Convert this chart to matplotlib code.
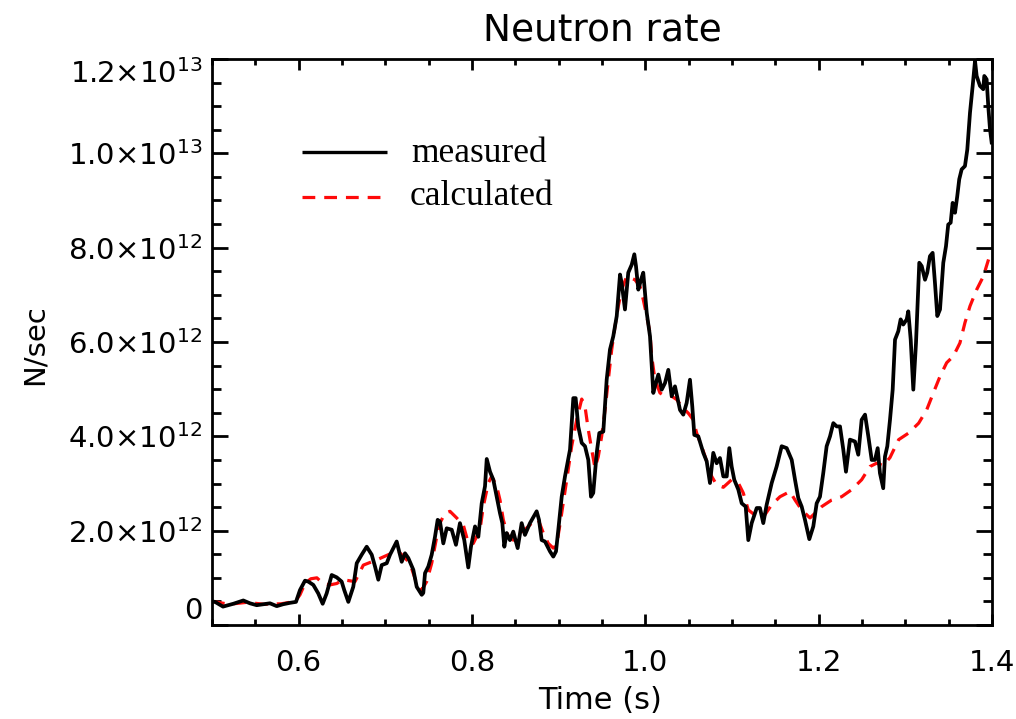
import numpy as np
import matplotlib
matplotlib.use("Agg")
import matplotlib.pyplot as plt
from matplotlib.ticker import FixedLocator, MultipleLocator, FuncFormatter

# Measured neutron rate (time in s, rate in units of 1e12 N/sec)
t_measured = [
    0.5000, 0.5035, 0.5127, 0.5246, 0.5361, 0.5438, 0.5516, 0.5590, 0.5669, 0.5747,
    0.5820, 0.5900, 0.5969, 0.6015, 0.6073, 0.6111, 0.6169, 0.6226, 0.6277, 0.6323,
    0.6381, 0.6439, 0.6496, 0.6526, 0.6573, 0.6630, 0.6670, 0.6727, 0.6785, 0.6843,
    0.6881, 0.6919, 0.6958, 0.7016, 0.7054, 0.7111, 0.7131, 0.7150, 0.7189, 0.7227,
    0.7265, 0.7323, 0.7362, 0.7420, 0.7438, 0.7458, 0.7496, 0.7535, 0.7573, 0.7604,
    0.7631, 0.7669, 0.7708, 0.7766, 0.7815, 0.7861, 0.7911, 0.7957, 0.7988, 0.8035,
    0.8073, 0.8112, 0.8150, 0.8170, 0.8208, 0.8246, 0.8285, 0.8323, 0.8350, 0.8373,
    0.8400, 0.8438, 0.8476, 0.8527, 0.8573, 0.8611, 0.8669, 0.8746, 0.8773, 0.8804,
    0.8842, 0.8900, 0.8938, 0.8969, 0.8996, 0.9035, 0.9073, 0.9131, 0.9169, 0.9196,
    0.9226, 0.9266, 0.9304, 0.9342, 0.9373, 0.9399, 0.9439, 0.9469, 0.9515, 0.9554,
    0.9592, 0.9630, 0.9670, 0.9708, 0.9727, 0.9765, 0.9803, 0.9843, 0.9873, 0.9892,
    0.9919, 0.9950, 0.9976, 1.0016, 1.0054, 1.0092, 1.0111, 1.0150, 1.0189, 1.0227,
    1.0265, 1.0304, 1.0342, 1.0400, 1.0438, 1.0477, 1.0515, 1.0542, 1.0565, 1.0611,
    1.0669, 1.0708, 1.0746, 1.0784, 1.0823, 1.0861, 1.0900, 1.0939, 1.0969, 1.0996,
    1.1026, 1.1073, 1.1112, 1.1158, 1.1188, 1.1227, 1.1285, 1.1323, 1.1361, 1.1400,
    1.1458, 1.1515, 1.1573, 1.1631, 1.1689, 1.1727, 1.1765, 1.1804, 1.1842, 1.1892,
    1.1938, 1.1977, 1.2015, 1.2053, 1.2092, 1.2131, 1.2169, 1.2208, 1.2246, 1.2284,
    1.2315, 1.2361, 1.2419, 1.2457, 1.2496, 1.2535, 1.2573, 1.2612, 1.2650, 1.2681,
    1.2707, 1.2745, 1.2765, 1.2792, 1.2823, 1.2854, 1.2881, 1.2919, 1.2946, 1.2976,
    1.3016, 1.3034, 1.3062, 1.3092, 1.3123, 1.3161, 1.3189, 1.3227, 1.3253, 1.3284,
    1.3315, 1.3342, 1.3369, 1.3400, 1.3438, 1.3469, 1.3495, 1.3523, 1.3546, 1.3573,
    1.3599, 1.3622, 1.3650, 1.3688, 1.3715, 1.3746, 1.3777, 1.3804, 1.3823, 1.3861,
    1.3899, 1.3911, 1.3938, 1.3957, 1.3977, 1.3996,
]
rate_measured = [
    0.50, 0.49, 0.39, 0.45, 0.52, 0.46, 0.42, 0.44, 0.46, 0.40,
    0.44, 0.47, 0.49, 0.74, 0.94, 0.92, 0.85, 0.67, 0.45, 0.67,
    1.06, 1.01, 0.92, 0.74, 0.49, 0.81, 1.31, 1.49, 1.66, 1.49,
    1.24, 0.96, 1.27, 1.31, 1.49, 1.70, 1.77, 1.63, 1.34, 1.52,
    1.42, 1.17, 0.81, 0.64, 0.68, 1.10, 1.24, 1.49, 1.87, 2.23,
    2.19, 1.73, 2.05, 2.02, 1.70, 2.16, 1.80, 1.22, 1.66, 2.09,
    1.87, 2.58, 2.94, 3.52, 3.25, 3.08, 2.72, 2.37, 2.16, 1.66,
    1.95, 1.80, 1.98, 1.63, 2.16, 1.91, 2.16, 2.41, 2.23, 1.80,
    1.77, 1.56, 1.45, 1.56, 2.02, 2.72, 3.15, 3.72, 4.81, 4.81,
    4.21, 3.86, 3.79, 3.50, 2.72, 2.80, 3.65, 4.07, 4.10, 5.20,
    5.84, 6.12, 6.55, 7.43, 7.25, 6.69, 7.47, 7.64, 7.86, 7.61,
    7.11, 7.32, 7.47, 6.62, 6.12, 4.92, 5.06, 5.31, 4.99, 5.13,
    5.41, 4.85, 5.06, 4.56, 4.46, 4.71, 5.20, 4.63, 4.03, 4.00,
    3.65, 3.47, 3.01, 3.65, 3.43, 3.54, 3.15, 3.15, 3.75, 3.36,
    3.08, 2.87, 2.58, 2.51, 1.80, 2.16, 2.48, 2.48, 2.16, 2.55,
    3.01, 3.36, 3.79, 3.75, 3.50, 3.08, 2.69, 2.51, 2.23, 1.82,
    2.09, 2.58, 2.72, 3.22, 3.79, 4.00, 4.28, 4.21, 4.21, 3.72,
    3.25, 3.93, 3.89, 3.61, 4.35, 4.46, 4.00, 3.50, 3.50, 3.75,
    3.22, 2.90, 3.57, 3.79, 4.35, 4.99, 6.05, 6.23, 6.48, 6.37,
    6.48, 6.65, 6.05, 4.99, 5.98, 7.68, 7.61, 7.32, 7.47, 7.82,
    7.89, 7.25, 6.55, 6.69, 7.68, 8.03, 8.49, 8.53, 8.95, 8.74,
    9.09, 9.45, 9.66, 9.73, 10.08, 10.86, 11.43, 11.96, 11.64, 11.43,
    11.36, 11.64, 11.57, 11.00, 10.51, 10.23,
]

# Calculated neutron rate (time in s, rate in units of 1e12 N/sec)
t_calculated = [
    0.5000, 0.5200, 0.5400, 0.5600, 0.5800, 0.5960, 0.6015, 0.6073, 0.6140, 0.6210,
    0.6280, 0.6360, 0.6440, 0.6510, 0.6650, 0.6746, 0.6900, 0.7070, 0.7140, 0.7227,
    0.7283, 0.7362, 0.7420, 0.7477, 0.7535, 0.7593, 0.7630, 0.7688, 0.7746, 0.7823,
    0.7900, 0.7958, 0.8015, 0.8092, 0.8130, 0.8188, 0.8227, 0.8285, 0.8323, 0.8361,
    0.8419, 0.8476, 0.8534, 0.8611, 0.8689, 0.8765, 0.8823, 0.8880, 0.8938, 0.8977,
    0.9025, 0.9093, 0.9150, 0.9208, 0.9266, 0.9304, 0.9342, 0.9381, 0.9419, 0.9457,
    0.9496, 0.9535, 0.9573, 0.9612, 0.9650, 0.9688, 0.9727, 0.9785, 0.9880, 0.9938,
    0.9976, 1.0016, 1.0054, 1.0073, 1.0111, 1.0169, 1.0227, 1.0304, 1.0362, 1.0420,
    1.0496, 1.0554, 1.0592, 1.0650, 1.0708, 1.0766, 1.0823, 1.0900, 1.0996, 1.1073,
    1.1130, 1.1188, 1.1285, 1.1381, 1.1458, 1.1554, 1.1669, 1.1727, 1.1804, 1.1900,
    1.1958, 1.2035, 1.2150, 1.2265, 1.2381, 1.2496, 1.2592, 1.2669, 1.2746, 1.2823,
    1.2923, 1.3038, 1.3154, 1.3246, 1.3323, 1.3400, 1.3477, 1.3554, 1.3630, 1.3688,
    1.3746, 1.3823, 1.3900, 1.3960,
]
rate_calculated = [
    0.50, 0.44, 0.48, 0.44, 0.45, 0.50, 0.64, 0.88, 0.98, 1.00,
    0.88, 0.85, 0.88, 0.96, 0.92, 1.27, 1.38, 1.52, 1.58, 1.42,
    1.31, 0.88, 0.74, 0.92, 1.31, 1.87, 2.16, 2.37, 2.41, 2.27,
    2.12, 1.73, 1.73, 2.02, 2.51, 3.01, 3.15, 2.94, 2.65, 2.23,
    1.87, 1.80, 1.87, 2.02, 2.16, 2.23, 1.95, 1.73, 1.63, 1.70,
    2.25, 3.08, 3.79, 4.35, 4.79, 4.63, 4.14, 3.72, 3.33, 3.57,
    4.00, 4.56, 5.20, 5.84, 6.33, 6.76, 7.11, 7.39, 7.32, 7.18,
    6.90, 6.55, 6.19, 5.70, 5.20, 4.92, 4.85, 4.85, 4.78, 4.63,
    4.49, 4.35, 4.07, 3.79, 3.47, 3.15, 2.97, 2.92, 3.08, 3.01,
    2.80, 2.44, 2.30, 2.34, 2.55, 2.72, 2.83, 2.65, 2.44, 2.27,
    2.37, 2.51, 2.65, 2.72, 2.87, 3.08, 3.36, 3.43, 3.38, 3.55,
    3.93, 4.07, 4.28, 4.56, 4.92, 5.27, 5.56, 5.70, 5.98, 6.41,
    6.76, 7.11, 7.39, 7.75,
]

series_labels = ["measured", "calculated"]
x_major_ticks = [0.6, 0.8, 1.0, 1.2, 1.4]
y_major_ticks = [0, 2e12, 4e12, 6e12, 8e12, 1e13, 1.2e13]

UNIT = 1e12

fig = plt.figure(figsize=(10.16, 7.19), dpi=100)
fig.patch.set_facecolor("white")
ax = fig.add_axes([212 / 1016, 94 / 719, 780 / 1016, 566 / 719])

ax.plot(np.asarray(t_measured), np.asarray(rate_measured) * UNIT,
        color="black", lw=2.7, solid_joinstyle="round", zorder=3)
ax.plot(np.asarray(t_calculated), np.asarray(rate_calculated) * UNIT,
        color="#ff0a0a", lw=2.3, dashes=(4.0, 2.8), zorder=2)

ax.set_xlim(0.5, 1.4)
ax.set_ylim(0, 1.2e13)

# Axis ticks: inward on all four sides, IDL style
ax.xaxis.set_major_locator(FixedLocator(x_major_ticks))
ax.xaxis.set_minor_locator(MultipleLocator(0.05))
ax.yaxis.set_major_locator(FixedLocator(y_major_ticks))
ax.yaxis.set_minor_locator(MultipleLocator(0.5e12))


def sci_label(v, pos):
    if v == 0:
        return "0"
    exp = int(np.floor(np.log10(abs(v))))
    mant = v / 10 ** exp
    return r"$%.1f{\times}10^{%d}$" % (mant, exp)


ax.yaxis.set_major_formatter(FuncFormatter(sci_label))
ax.xaxis.set_major_formatter(FuncFormatter(lambda v, p: "%.1f" % v))

ax.tick_params(axis="both", which="both", direction="in",
               top=True, right=True, width=2.0, colors="black")
ax.tick_params(axis="x", which="major", length=8, pad=17, labelsize=21)
ax.tick_params(axis="x", which="minor", length=4.5)
ax.tick_params(axis="y", which="major", length=11.5, pad=7, labelsize=21)
ax.tick_params(axis="y", which="minor", length=6.5)

for sp in ax.spines.values():
    sp.set_linewidth(2.0)
    sp.set_color("black")

# End labels of the y axis sit inside the axis range
yticks = ax.yaxis.get_major_ticks()
yticks[0].label1.set_verticalalignment("bottom")
yticks[-1].label1.set_verticalalignment("top")

ax.set_xlabel("Time (s)", fontsize=22, va="center")
ax.xaxis.set_label_coords(0.497, -0.133)
ax.set_ylabel("N/sec", fontsize=21, ha="center", va="center")
ax.yaxis.set_label_coords(-0.227, 0.495)
ax.text(0.5, 1.051, "Neutron rate", transform=ax.transAxes,
        ha="center", va="center", fontsize=27)

# Legend drawn as sample lines with serif labels
serif = dict(family=["Liberation Serif", "DejaVu Serif"], size=25.5)
ax.plot([0.115, 0.224], [0.835, 0.835], transform=ax.transAxes,
        color="black", lw=2.4, solid_capstyle="butt")
ax.plot([0.115, 0.224], [0.756, 0.756], transform=ax.transAxes,
        color="#ff0a0a", lw=2.3, dashes=(4.0, 2.8))
ax.text(0.256, 0.8186, series_labels[0], transform=ax.transAxes,
        ha="left", va="baseline", fontdict=serif)
ax.text(0.253, 0.742, series_labels[1], transform=ax.transAxes,
        ha="left", va="baseline", fontdict=serif)

fig.savefig("out.png", dpi=100, facecolor="white")
